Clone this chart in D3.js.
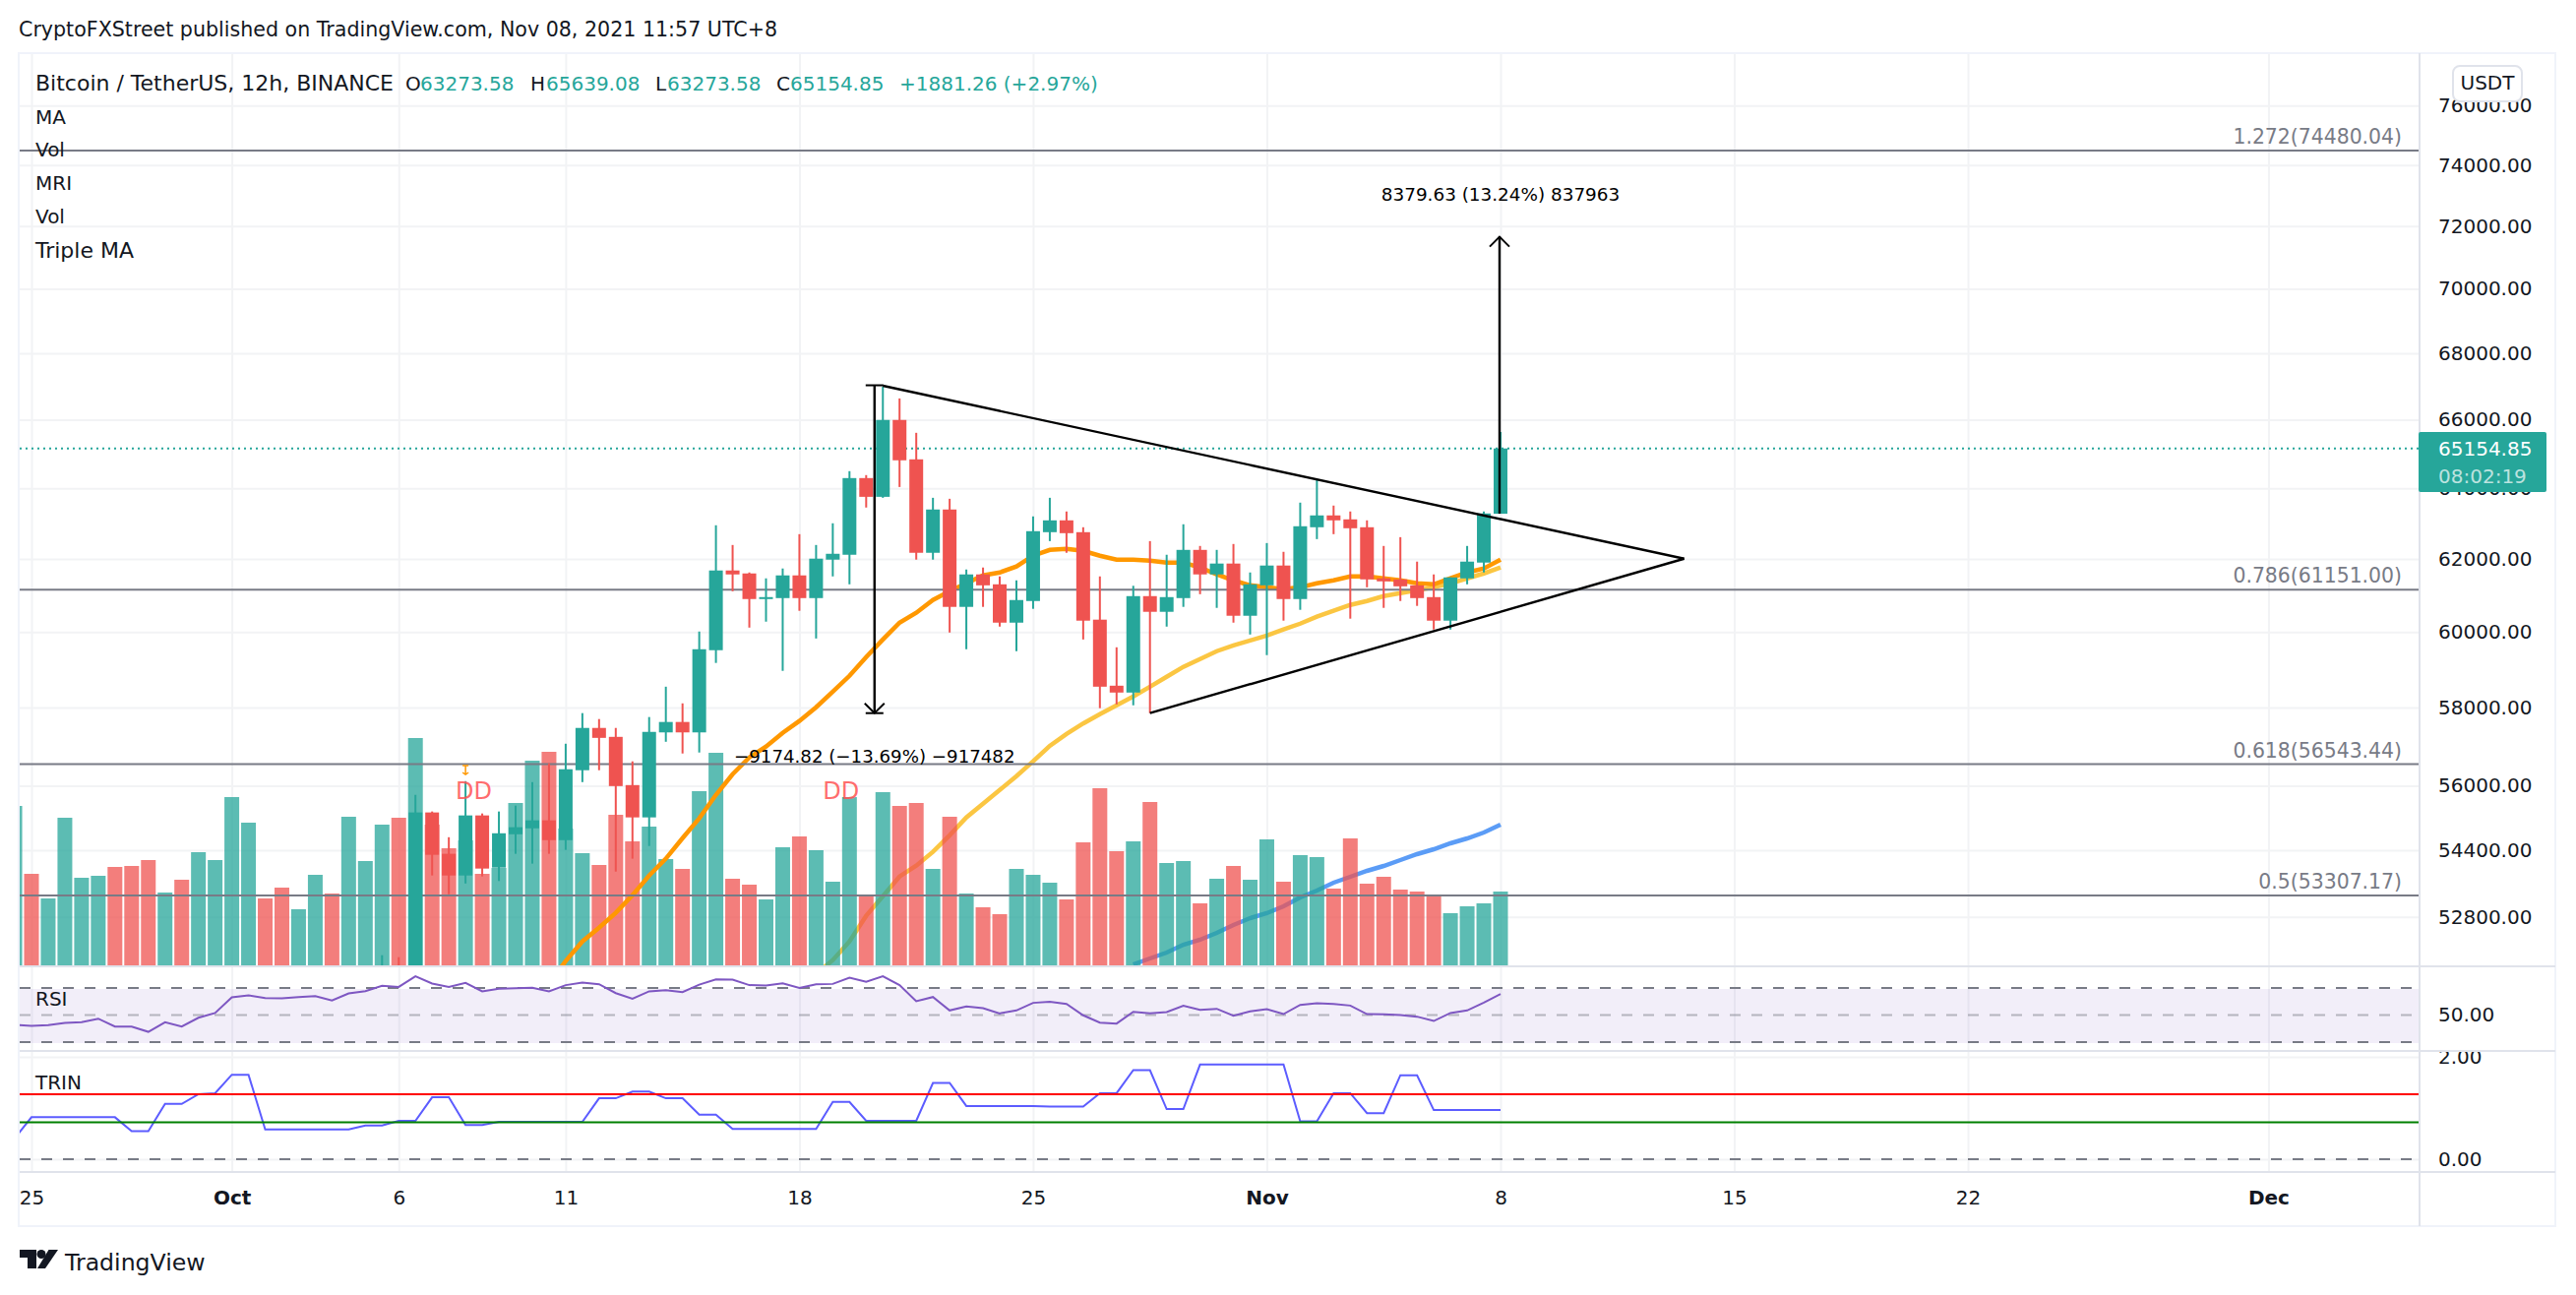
<!DOCTYPE html>
<html>
<head>
<meta charset="utf-8">
<script src="https://cdn.jsdelivr.net/npm/d3@7"></script>
<style>
  body { margin: 0; background: #fff; }
  text { font-family: "DejaVu Sans", sans-serif; font-size: 20px; fill: #131722; }
</style>
</head>
<body>
<div id="chart"></div>
<script>
// Bars are numbered from Sep 25 = 0, two per day, Nov 8 = 88
const timeTicks = [0, 12, 22, 32, 46, 60, 74, 88, 102, 116, 134];
const timeLabels = ["25", "Oct", "6", "11", "18", "25", "Nov", "8", "15", "22", "Dec"];
const monthLabels = ["Oct", "Nov", "Dec"];

const priceTicks = [76000, 74000, 72000, 70000, 68000, 66000, 64000, 62000, 60000, 58000, 56000, 54400, 52800];
const rsiTicks = [50];
const trinTicks = [2, 0];

// OHLC, first candle is bar 21 (the first ones sit below the pane)
const firstCandle = 21;
const opens = [50500,51300,51300,55332,54314,53788,55258,53979,54793,54939,55136,54648,56391,57472,57242,56016,55209,57357,57626,57357,59513,61682,61600,60896,60922,61546,60922,61983,62119,64295,63756,65995,64838,62174,63394,60682,61573,61300,60254,60842,62752,63086,62752,60335,58572,58392,60976,60548,60922,62255,61573,61874,60441,61272,61819,60896,62891,63226,63114,62891,61464,61436,61272,60949,60308,61464,61901,63273.58];
const highs = [51897,51851,55771,55356,54720,56116,55307,55356,55502,56091,56566,57066,57856,57702,57472,56616,57754,58546,58110,60014,62947,62392,61627,61464,61737,62696,62392,63003,64495,64381,66987,66636,65615,63728,63700,61709,61764,61518,61409,63198,63728,63338,62891,61518,59591,61259,62501,62119,62975,62365,62255,62420,61627,62446,62201,63590,64267,63506,63338,63086,62365,62612,61928,61573,61491,62365,63338,65639.08];
const lows = [50000,50100,51000,53788,53336,53595,53764,53655,54314,54075,54314,54410,56091,56391,53882,54195,54505,57116,56816,56841,59174,61109,60120,60281,58964,60575,59827,61518,61300,63450,63728,64038,61983,61983,59987,59539,60682,60147,59487,60629,62501,62174,59800,57984,58084,58059,57856,60147,60682,61029,60655,60254,59934,59382,60308,60602,62557,62696,60362,61218,60655,60842,60709,60068,60068,61300,61627,63273.58];
const closes = [51200,50900,55332,54290,53788,55258,53955,54817,54966,55136,54648,56416,57472,57216,55991,55209,57370,57626,57357,59539,61682,61573,60896,60949,61546,60922,62010,62146,64295,63756,65995,64810,62174,63394,60682,61573,61272,60254,60869,62780,63086,62724,60308,58546,58392,60976,60548,60949,62255,61573,61874,60441,61300,61819,60896,62919,63226,63086,62863,61436,61382,61245,60922,60308,61491,61928,63282,65154.85];

// Volume, first entry is bar -1 (cut by the left edge)
const firstVolume = -1;
const volumes = [16200,9300,6800,15000,8900,9100,10000,10100,10700,7400,8700,11500,10700,17100,14500,6800,7900,5700,9200,7300,15100,10600,14300,15000,23100,14300,11900,12700,9300,9900,16500,20800,21700,13900,11400,10200,15300,12600,14100,10800,9800,17700,21600,8800,8200,6700,12000,13100,11700,8500,17100,7100,17600,16200,16500,9800,15100,7300,5900,5200,9800,9200,8400,6700,12500,18000,11600,12600,16600,10400,10600,6300,8800,10100,8700,12800,8500,11200,11000,7800,12900,8300,9000,7700,7500,7100,5300,6000,6300,7500];
const volumeSides = "grggggrrrgrggggrrggrgggrgrrgrgggrggrrrggrggrrggrgggrgrrgrgrrgggrrrrgrggrgrggrggrrrrrrrgggg";

// Moving averages
const firstOrange = 31;
const maOrange = [51234,51760,52218,52542,52893,53313,53788,54195,54696,55185,55771,56291,56716,56991,57344,57651,58008,58417,58833,59330,59800,60254,60521,60869,61109,61327,61546,61627,61792,62092,62255,62283,62228,62092,61983,61983,61956,61901,61901,61764,61573,61409,61272,61218,61163,61218,61327,61409,61518,61518,61464,61409,61327,61300,61464,61627,61737,61983];
const firstYellow = 47;
const maYellow = [51462,51783,52218,52823,53290,53764,54026,54362,54768,55209,55551,55893,56241,56616,57011,57318,57587,57830,58059,58289,58546,58807,59070,59278,59487,59643,59774,59907,60068,60227,60415,60575,60735,60842,60976,61056,61136,61218,61327,61464,61600,61764];
const firstVolumeMa = 66;
const maVolume = [100,700,1300,2100,2600,3300,4100,4800,5300,6000,6900,7600,8400,9000,9600,10100,10700,11300,11800,12400,12900,13500,14300];

// RSI and TRIN, first entry is bar -1
const firstOsc = -1;
const rsiValues = [42.7,42,42.5,44.2,44.7,47.3,41.5,41.5,37.6,44.7,41.5,48,51.5,63.1,64.5,62.6,62.4,63.3,64,60.7,66,67.7,71.6,70.8,78.6,73.3,70.8,73.8,67.5,69.4,69.9,70.1,67.5,72.1,74,72.8,66.2,62.1,67.5,68.4,67,72.5,76.4,76.2,72.1,71.8,73.4,70.1,72.8,73,77.6,74.5,78.6,72.1,60.2,63.3,53.4,56.3,55.1,51.2,53.4,59,59.9,58.2,49.8,44.4,43.7,52.4,51.2,52.2,56.8,53.9,54.6,49.5,52.7,54.4,50.7,57.5,58.7,58.2,57,50.7,50.5,50,48.8,45.6,51.5,53.4,59.2,65.5];
const trinValues = [0.41,0.82,0.82,0.82,0.82,0.82,0.82,0.55,0.55,1.08,1.08,1.27,1.29,1.65,1.65,0.58,0.58,0.58,0.58,0.58,0.58,0.66,0.66,0.75,0.75,1.21,1.21,0.67,0.67,0.73,0.73,0.73,0.73,0.73,0.73,1.19,1.19,1.32,1.32,1.19,1.19,0.87,0.87,0.59,0.59,0.59,0.59,0.59,0.59,1.12,1.12,0.75,0.75,0.75,0.75,1.49,1.49,1.04,1.04,1.04,1.04,1.04,1.03,1.03,1.03,1.29,1.29,1.74,1.74,0.98,0.98,1.85,1.85,1.85,1.85,1.85,1.85,0.74,0.74,1.29,1.29,0.9,0.9,1.64,1.64,0.96,0.96,0.96,0.96,0.96];
const trinRed = 1.27;
const trinGreen = 0.72;

// Fib levels
const fibLevels = [74480.04, 61151.0, 56543.44, 53307.17];
const fibLabels = ["1.272(74480.04)", "0.786(61151.00)", "0.618(56543.44)", "0.5(53307.17)"];

// Drawings, as [bar, price]
const wedgeUpper = [[51, 67016], [99, 62010]];
const wedgeLower = [[67, 57856], [99, 62010]];
const arrowDown = [[50.5, 67030], [50.5, 57855]];
const arrowUp = [[87.94, 63273.58], [87.94, 71653]];
const lastPrice = 65154.85;

const width = 2618;
const height = 1316;
const paneLeft = 20;
const paneRight = 2459;
const outerRight = 2597;
const paneTop = 54;
const mainBottom = 982;
const rsiBottom = 1068;
const trinBottom = 1191;
const outerBottom = 1246;
const labelX = 2478;

const green = "#26a69a";
const red = "#ef5350";
const gridColor = "#f2f3f5";
const frameColor = "#f0f3fa";
const borderColor = "#e0e3eb";
const grey = "#787b86";

const svg = d3.select("#chart").append("svg").attr("width", width).attr("height", height)
  .style("display", "block");

// Scales
const x = d3.scaleLinear().domain([0, 88]).range([32, 1525]);
const y = d3.scaleLog().domain([74480.04, 53307.17]).range([153, 910]);
const yVol = d3.scaleLinear().domain([0, 40000]).range([981, 581]);
const yRsi = d3.scaleLinear().domain([30, 70]).range([1059, 1004]);
const yTrin = d3.scaleLinear().domain([0, 2]).range([1178, 1074]);

const defs = svg.append("defs");
function addClip(id, y0, y1) {
  defs.append("clipPath").attr("id", id).append("rect")
    .attr("x", paneLeft).attr("y", y0).attr("width", paneRight - paneLeft).attr("height", y1 - y0);
}
addClip("main", paneTop, mainBottom);
addClip("rsi", mainBottom, rsiBottom);
addClip("trin", rsiBottom + 1, trinBottom);

// Vertical grid through all the panes
svg.append("g").attr("transform", `translate(0, ${paneTop})`)
  .call(d3.axisBottom(x).tickValues(timeTicks).tickSize(trinBottom - paneTop).tickFormat(""))
  .call((g) => g.select(".domain").remove())
  .selectAll("line").attr("stroke", gridColor).attr("stroke-width", 2);

// Horizontal grid
function hGrid(scale, values) {
  svg.append("g").attr("transform", `translate(${paneLeft}, 0)`)
    .call(d3.axisRight(scale).tickValues(values).tickSize(paneRight - paneLeft).tickFormat(""))
    .call((g) => g.select(".domain").remove())
    .selectAll("line").attr("stroke", gridColor).attr("stroke-width", 2);
}
hGrid(y, priceTicks);
hGrid(yTrin, trinTicks);

const main = svg.append("g").attr("clip-path", "url(#main)");

function line(values, first, scale) {
  return d3.line().x((d, i) => x(first + i)).y((d) => scale(d))(values);
}

// Slow MA and volume MA go under the volume bars
main.append("path").attr("d", line(maYellow, firstYellow, y))
  .attr("fill", "none").attr("stroke", "#fbc02d").attr("stroke-width", 4.5).attr("stroke-opacity", 0.9);
main.append("path").attr("d", line(maVolume, firstVolumeMa, yVol))
  .attr("fill", "none").attr("stroke", "#5b9cf6").attr("stroke-width", 4.5);

// Volume bars
main.selectAll(".vol").data(volumes).enter().append("rect")
  .attr("class", "vol")
  .attr("x", (d, i) => x(firstVolume + i) - 7.5)
  .attr("y", (d) => yVol(d))
  .attr("width", 15)
  .attr("height", (d) => yVol(0) - yVol(d))
  .attr("fill", (d, i) => (volumeSides[i] === "g" ? green : red))
  .attr("fill-opacity", 0.75);

main.append("path").attr("d", line(maOrange, firstOrange, y))
  .attr("fill", "none").attr("stroke", "#ff9800").attr("stroke-width", 4.5);

// Last price line
main.append("line").attr("x1", paneLeft).attr("x2", paneRight)
  .attr("y1", y(lastPrice)).attr("y2", y(lastPrice))
  .attr("stroke", green).attr("stroke-width", 2).attr("stroke-dasharray", "2 4");

// Fib levels
main.selectAll(".fib").data(fibLevels).enter().append("line")
  .attr("class", "fib")
  .attr("x1", paneLeft).attr("x2", paneRight)
  .attr("y1", (d) => y(d)).attr("y2", (d) => y(d))
  .attr("stroke", grey).attr("stroke-width", 2);

svg.selectAll(".fibLabel").data(fibLevels).enter().append("text")
  .attr("class", "fibLabel")
  .attr("x", 2441).attr("y", (d) => y(d) - 7)
  .attr("text-anchor", "end")
  .style("fill", grey)
  .style("font-size", "20.4px")
  .text((d, i) => fibLabels[i]);

// Candles
const candles = main.selectAll(".candle").data(opens).enter().append("g").attr("class", "candle");
const candleColor = (i) => (closes[i] >= opens[i] ? green : red);
candles.append("line")
  .attr("x1", (d, i) => x(firstCandle + i)).attr("x2", (d, i) => x(firstCandle + i))
  .attr("y1", (d, i) => y(highs[i])).attr("y2", (d, i) => y(lows[i]))
  .attr("stroke", (d, i) => candleColor(i)).attr("stroke-width", 2);
candles.append("rect")
  .attr("x", (d, i) => x(firstCandle + i) - 7)
  .attr("y", (d, i) => y(Math.max(opens[i], closes[i])))
  .attr("width", 14)
  .attr("height", (d, i) => Math.max(2, Math.abs(y(opens[i]) - y(closes[i]))))
  .attr("fill", (d, i) => candleColor(i));

// Drawings
const toXY = d3.line().x((d) => x(d[0])).y((d) => y(d[1]));
[wedgeUpper, wedgeLower, arrowDown, arrowUp].forEach((pts) => {
  main.append("path").attr("d", toXY(pts)).attr("fill", "none").attr("stroke", "#000").attr("stroke-width", 2.4);
});

function cap(point, half) {
  main.append("line")
    .attr("x1", x(point[0]) - half).attr("x2", x(point[0]) + half)
    .attr("y1", y(point[1])).attr("y2", y(point[1]))
    .attr("stroke", "#000").attr("stroke-width", 2);
}
function head(point, dir) {
  const px = x(point[0]);
  const py = y(point[1]);
  main.append("path")
    .attr("d", `M${px - 10},${py + dir * 10}L${px},${py}L${px + 10},${py + dir * 10}`)
    .attr("fill", "none").attr("stroke", "#000").attr("stroke-width", 2);
}
cap(arrowDown[0], 9);
cap(arrowDown[1], 9);
head(arrowDown[1], -1);
head(arrowUp[1], 1);

svg.append("text").attr("x", x(88)).attr("y", 204).attr("text-anchor", "middle").style("fill", "#000")
  .style("font-size", "18.4px").text("8379.63 (13.24%) 837963");
svg.append("text").attr("x", x(50.5)).attr("y", 775).attr("text-anchor", "middle").style("fill", "#000")
  .style("font-size", "18.2px").text("\u22129174.82 (\u221213.69%) \u2212917482");

// DD markers
[26.5, 48.5].forEach((bar) => {
  svg.append("text").attr("x", x(bar)).attr("y", 812).attr("text-anchor", "middle")
    .style("fill", "#ff5252").style("font-size", "24px").style("fill-opacity", 0.85).text("DD");
});
main.append("path")
  .attr("d", `M${x(26) - 3},778h6M${x(26)},778v9M${x(26) - 3},785l3,2l3,-2`)
  .attr("fill", "none").attr("stroke", "#ff9800").attr("stroke-width", 1.5);

// RSI pane
const rsiPane = svg.append("g").attr("clip-path", "url(#rsi)");
rsiPane.append("rect").attr("x", paneLeft).attr("y", yRsi(70) + 1).attr("width", paneRight - paneLeft)
  .attr("height", yRsi(30) - yRsi(70)).attr("fill", "#7e57c2").attr("fill-opacity", 0.1);
rsiPane.selectAll(".rsiBand").data([70, 50, 30]).enter().append("line")
  .attr("class", "rsiBand")
  .attr("x1", paneLeft).attr("x2", paneRight)
  .attr("y1", (d) => yRsi(d)).attr("y2", (d) => yRsi(d))
  .attr("stroke", grey).attr("stroke-width", 2).attr("stroke-dasharray", "11 11")
  .attr("stroke-opacity", (d) => (d === 50 ? 0.5 : 1));
rsiPane.append("path").attr("d", line(rsiValues, firstOsc, yRsi))
  .attr("fill", "none").attr("stroke", "#7e57c2").attr("stroke-width", 2);

// TRIN pane
const trinPane = svg.append("g").attr("clip-path", "url(#trin)");
trinPane.append("line").attr("x1", paneLeft).attr("x2", paneRight)
  .attr("y1", yTrin(0)).attr("y2", yTrin(0))
  .attr("stroke", grey).attr("stroke-width", 2).attr("stroke-dasharray", "11 11");
trinPane.append("path").attr("d", line(trinValues, firstOsc, yTrin))
  .attr("fill", "none").attr("stroke", "#5c5cff").attr("stroke-width", 2);
trinPane.append("line").attr("x1", paneLeft).attr("x2", paneRight)
  .attr("y1", yTrin(trinRed)).attr("y2", yTrin(trinRed))
  .attr("stroke", "#ff0000").attr("stroke-width", 2);
trinPane.append("line").attr("x1", paneLeft).attr("x2", paneRight)
  .attr("y1", yTrin(trinGreen)).attr("y2", yTrin(trinGreen))
  .attr("stroke", "#008000").attr("stroke-width", 2);

// Frame and pane borders
svg.append("rect").attr("x", paneLeft - 1).attr("y", paneTop).attr("width", outerRight - paneLeft + 1)
  .attr("height", outerBottom - paneTop).attr("fill", "none").attr("stroke", frameColor).attr("stroke-width", 2);
[mainBottom, rsiBottom, trinBottom].forEach((py) => {
  svg.append("line").attr("x1", paneLeft).attr("x2", outerRight).attr("y1", py).attr("y2", py)
    .attr("stroke", borderColor).attr("stroke-width", 2);
});
svg.append("line").attr("x1", paneRight).attr("x2", paneRight).attr("y1", paneTop).attr("y2", outerBottom)
  .attr("stroke", borderColor).attr("stroke-width", 2);

// Axes
function valueAxis(scale, values, clip) {
  const g = svg.append("g").attr("transform", `translate(${labelX}, 0)`)
    .call(d3.axisRight(scale).tickValues(values).tickSize(0).tickPadding(0).tickFormat(d3.format(".2f")))
    .call((s) => s.select(".domain").remove());
  g.attr("font-family", null).attr("font-size", null);
  if (clip) g.attr("clip-path", `url(#${clip})`);
}
valueAxis(y, priceTicks);
valueAxis(yRsi, rsiTicks);
// the clip rect is in the group's own coordinates
defs.append("clipPath").attr("id", "trinLabels").append("rect")
  .attr("x", 0).attr("y", rsiBottom + 1).attr("width", 130).attr("height", trinBottom - rsiBottom - 1);
valueAxis(yTrin, trinTicks, "trinLabels");

svg.append("g").attr("transform", "translate(0, 1210)")
  .call(d3.axisBottom(x).tickValues(timeTicks).tickSize(0).tickPadding(0)
    .tickFormat((d, i) => timeLabels[i]))
  .call((g) => g.select(".domain").remove())
  .attr("font-family", null).attr("font-size", null)
  .selectAll("text")
  .style("font-weight", (d, i) => (monthLabels.includes(timeLabels[i]) ? 600 : 400));

// Last price label
svg.append("rect").attr("x", paneRight - 1).attr("y", 439).attr("width", 130).attr("height", 61)
  .attr("rx", 2).attr("fill", green);
svg.append("text").attr("x", labelX).attr("y", y(lastPrice)).attr("dy", "0.35em")
  .style("fill", "#fff").text(d3.format(".2f")(lastPrice));
svg.append("text").attr("x", labelX).attr("y", 484).attr("dy", "0.35em")
  .style("fill", "#fff").style("fill-opacity", 0.7).text("08:02:19");

// Currency button
svg.append("rect").attr("x", 2493).attr("y", 67).attr("width", 70).attr("height", 36).attr("rx", 7)
  .attr("fill", "#fff").attr("stroke", borderColor).attr("stroke-width", 2);
svg.append("text").attr("x", 2528).attr("y", 84).attr("dy", "0.35em").attr("text-anchor", "middle").text("USDT");

// Header and legend
svg.append("text").attr("x", 19).attr("y", 37).style("font-size", "20.6px")
  .text("CryptoFXStreet published on TradingView.com, Nov 08, 2021 11:57 UTC+8");
svg.append("text").attr("x", 36).attr("y", 92).style("font-size", "22px").text("Bitcoin / TetherUS, 12h, BINANCE");
const ohlcLabels = [["O", 412], ["H", 539], ["L", 666], ["C", 789]];
const ohlcValues = [["63273.58", 427], ["65639.08", 555], ["63273.58", 678], ["65154.85", 803], ["+1881.26 (+2.97%)", 914]];
ohlcLabels.forEach((d) => svg.append("text").attr("x", d[1]).attr("y", 92).text(d[0]));
ohlcValues.forEach((d) => svg.append("text").attr("x", d[1]).attr("y", 92).style("fill", green).text(d[0]));

const legendNames = ["MA", "Vol", "MRI", "Vol", "Triple MA"];
const legendY = [126, 159, 193, 227, 262];
legendNames.forEach((d, i) => svg.append("text").attr("x", 36).attr("y", legendY[i])
  .style("font-size", d === "Triple MA" ? "22px" : "20px").text(d));
svg.append("text").attr("x", 36).attr("y", 1022).text("RSI");
svg.append("text").attr("x", 36).attr("y", 1107).text("TRIN");

// TradingView mark
const logo = svg.append("g").attr("fill", "#131722");
logo.append("path").attr("d", "M20,1270H37V1289H28V1278H20Z");
logo.append("circle").attr("cx", 42).attr("cy", 1274.5).attr("r", 4.5);
logo.append("path").attr("d", "M38,1289L49.5,1270H59L46,1289Z");
svg.append("text").attr("x", 66).attr("y", 1291).style("font-size", "23.6px").text("TradingView");
</script>
</body>
</html>
